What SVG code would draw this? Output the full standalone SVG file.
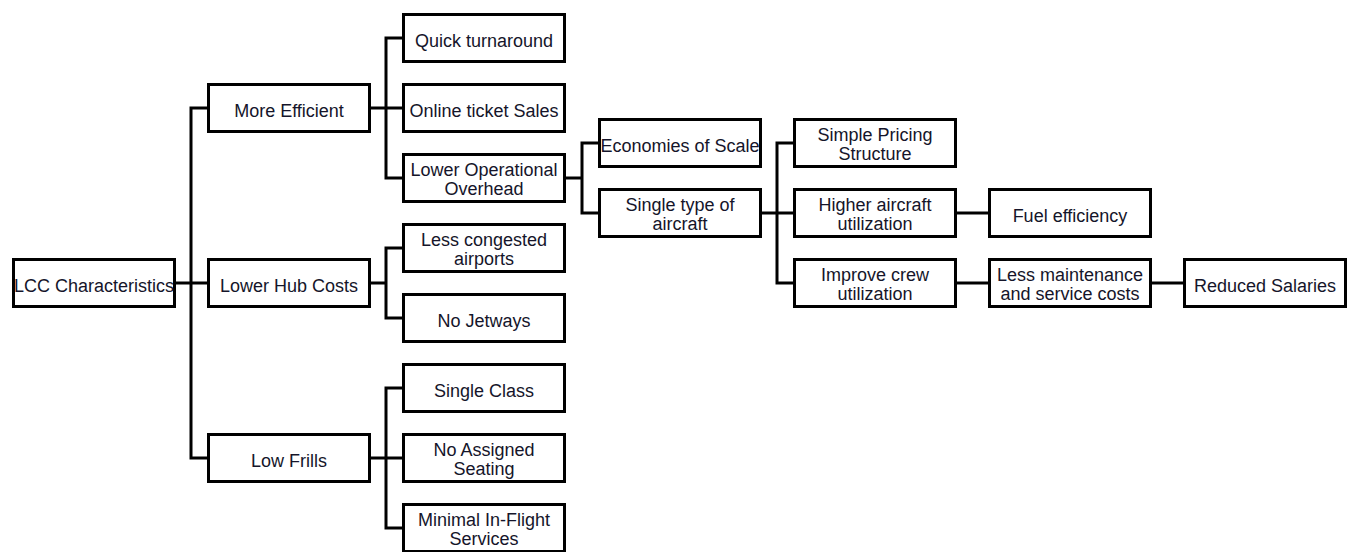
<svg xmlns="http://www.w3.org/2000/svg" width="1353" height="552" viewBox="0 0 1353 552">
<style>
.box rect{fill:#fff;stroke:#000;stroke-width:3}
.box text{font-family:"Liberation Sans",Arial,sans-serif;font-size:18px;fill:#15152a;text-anchor:middle}
#connectors path{fill:none;stroke:#000;stroke-width:3;stroke-linejoin:miter;stroke-linecap:butt}
</style>
<rect width="1353" height="552" fill="#fff"/>
<g id="connectors">
<path d="M175,283 H191 M207,108 H191 V458 H207 M191,283 H207"/>
<path d="M370,108 H386 M402,38 H386 V178 H402 M386,108 H402"/>
<path d="M370,283 H386 M402,248 H386 V318 H402"/>
<path d="M370,458 H386 M402,388 H386 V528 H402 M386,458 H402"/>
<path d="M565,178 H582 M598,143 H582 V213 H598"/>
<path d="M761,213 H777 M793,143 H777 V283 H793 M777,213 H793"/>
<path d="M956,213 H988"/>
<path d="M956,283 H988"/>
<path d="M1151,283 H1183"/>
</g>
<g id="lcc" class="box"><rect x="13.5" y="259.5" width="161" height="47"/><text x="94" y="291.5">LCC Characteristics</text></g>
<g id="more-efficient" class="box"><rect x="208.5" y="84.5" width="161" height="47"/><text x="289" y="116.5">More Efficient</text></g>
<g id="lower-hub" class="box"><rect x="208.5" y="259.5" width="161" height="47"/><text x="289" y="291.5">Lower Hub Costs</text></g>
<g id="low-frills" class="box"><rect x="208.5" y="434.5" width="161" height="47"/><text x="289" y="466.5">Low Frills</text></g>
<g id="quick" class="box"><rect x="403.5" y="14.5" width="161" height="47"/><text x="484" y="46.5">Quick turnaround</text></g>
<g id="online" class="box"><rect x="403.5" y="84.5" width="161" height="47"/><text x="484" y="116.5">Online ticket Sales</text></g>
<g id="lower-op" class="box"><rect x="403.5" y="154.5" width="161" height="47"/><text x="484" y="175.5">Lower Operational</text><text x="484" y="194.5">Overhead</text></g>
<g id="less-congested" class="box"><rect x="403.5" y="224.5" width="161" height="47"/><text x="484" y="245.5">Less congested</text><text x="484" y="264.5">airports</text></g>
<g id="no-jetways" class="box"><rect x="403.5" y="294.5" width="161" height="47"/><text x="484" y="326.5">No Jetways</text></g>
<g id="single-class" class="box"><rect x="403.5" y="364.5" width="161" height="47"/><text x="484" y="396.5">Single Class</text></g>
<g id="no-assigned" class="box"><rect x="403.5" y="434.5" width="161" height="47"/><text x="484" y="455.5">No Assigned</text><text x="484" y="474.5">Seating</text></g>
<g id="minimal" class="box"><rect x="403.5" y="504.5" width="161" height="47"/><text x="484" y="525.5">Minimal In-Flight</text><text x="484" y="544.5">Services</text></g>
<g id="economies" class="box"><rect x="599.5" y="119.5" width="161" height="47"/><text x="680" y="151.5">Economies of Scale</text></g>
<g id="single-type" class="box"><rect x="599.5" y="189.5" width="161" height="47"/><text x="680" y="210.5">Single type of</text><text x="680" y="229.5">aircraft</text></g>
<g id="simple-pricing" class="box"><rect x="794.5" y="119.5" width="161" height="47"/><text x="875" y="140.5">Simple Pricing</text><text x="875" y="159.5">Structure</text></g>
<g id="higher-aircraft" class="box"><rect x="794.5" y="189.5" width="161" height="47"/><text x="875" y="210.5">Higher aircraft</text><text x="875" y="229.5">utilization</text></g>
<g id="improve-crew" class="box"><rect x="794.5" y="259.5" width="161" height="47"/><text x="875" y="280.5">Improve crew</text><text x="875" y="299.5">utilization</text></g>
<g id="fuel" class="box"><rect x="989.5" y="189.5" width="161" height="47"/><text x="1070" y="221.5">Fuel efficiency</text></g>
<g id="less-maintenance" class="box"><rect x="989.5" y="259.5" width="161" height="47"/><text x="1070" y="280.5">Less maintenance</text><text x="1070" y="299.5">and service costs</text></g>
<g id="reduced-salaries" class="box"><rect x="1184.5" y="259.5" width="161" height="47"/><text x="1265" y="291.5">Reduced Salaries</text></g>
</svg>
